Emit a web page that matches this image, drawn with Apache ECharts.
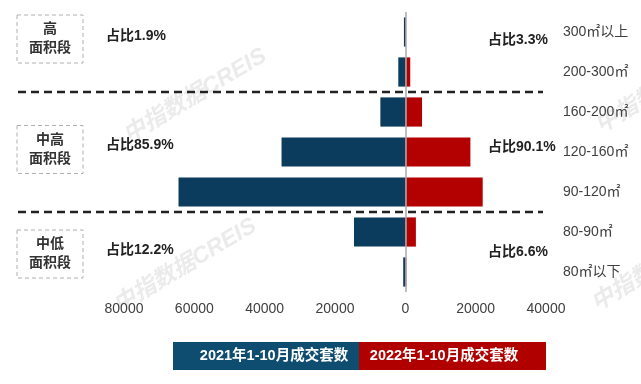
<!DOCTYPE html>
<html><head><meta charset="utf-8">
<script src="https://cdn.jsdelivr.net/npm/echarts@6/dist/echarts.min.js"></script>
<style>html,body{margin:0;padding:0;background:#fff}#c{width:641px;height:384px}</style>
</head><body><div id="c"></div>
<script>
// ---- data ----
const categories = ['300㎡以上','200-300㎡','160-200㎡','120-160㎡','90-120㎡','80-90㎡','80㎡以下'];
const sales2021 = [400, 2000, 7100, 35200, 64500, 14600, 600];
const sales2022 = [200, 1400, 4750, 18500, 22000, 3000, 300];
const seriesNames = ['2021年1-10月成交套数','2022年1-10月成交套数'];
const groupNames = ['高\n面积段','中高\n面积段','中低\n面积段'];
const share2021 = ['占比1.9%','占比85.9%','占比12.2%'];
const share2022 = ['占比3.3%','占比90.1%','占比6.6%'];
const groupBreakAfter = [1, 4];
const watermarkText = '中指数据CREIS';

// ---- styles ----
const FONT = "'Liberation Sans','Noto Sans CJK SC',sans-serif";
const BLUE = '#0b3c5d', RED = '#b30000';
const LEG_BLUE = '#0e4d6f', LEG_RED = '#b00000';

const chart = echarts.init(document.getElementById('c'), null, {renderer: 'canvas'});

const option = {
  animation: false,
  backgroundColor: '#fff',
  grid: {left: 124, right: 95, top: 12, bottom: 92, containLabel: false},
  xAxis: {
    type: 'value', min: -80000, max: 40000, interval: 20000,
    axisLine: {show: false}, axisTick: {show: false}, splitLine: {show: false},
    axisLabel: {
      formatter: v => String(Math.abs(v)), color: '#404040', fontSize: 14,
      fontFamily: FONT, margin: 10
    }
  },
  yAxis: {
    type: 'category', data: categories, inverse: true, position: 'right',
    axisLine: {show: false, onZero: false}, axisTick: {show: false},
    axisLabel: {color: '#404040', fontSize: 14, fontFamily: FONT, margin: 17, align: 'left'}
  },
  series: [
    {
      name: seriesNames[0], type: 'bar', data: sales2021.map(v => -v),
      barCategoryGap: '27%', barGap: '-100%', itemStyle: {color: BLUE},
      markLine: {
        silent: true, symbol: 'none', label: {show: false},
        lineStyle: {color: '#aaaaaa', width: 1.5, type: 'solid'},
        data: [{xAxis: 0}], z: 10
      }
    },
    {
      name: seriesNames[1], type: 'bar', data: sales2022,
      barCategoryGap: '27%', barGap: '-100%', itemStyle: {color: RED}
    }
  ]
};
chart.setOption(option);

// ---- annotations ----
function catY(i) { return chart.convertToPixel({yAxisIndex: 0}, categories[i]); }
const graphics = [];

// watermarks
const wm = [[195, 96], [185, 266], [667, 86], [663, 264]];
wm.forEach(p => graphics.push({
  type: 'text', x: p[0], y: p[1], rotation: 0.54, z: 0, silent: true,
  style: {text: watermarkText, fill: '#ebebeb', font: "italic bold 23px 'Liberation Sans','Noto Sans CJK SC',sans-serif",
          textAlign: 'center', textVerticalAlign: 'middle'}
}));

// dashed separators
groupBreakAfter.forEach(i => {
  const y = (catY(i) + catY(i + 1)) / 2;
  graphics.push({
    type: 'line', z: 20, silent: true,
    shape: {x1: 18, y1: y, x2: 543, y2: y},
    style: {stroke: '#222', lineWidth: 2.5, lineDash: [8, 5]}
  });
});

// group boxes and share texts
const boxY = [39, 149.5, 254];
const leftY = [36, 145, 250];
const rightY = [40, 147, 252];
groupNames.forEach((g, k) => {
  graphics.push({
    type: 'rect', z: 20, silent: true,
    shape: {x: 17, y: boxY[k] - 24, width: 66, height: 48},
    style: {fill: 'none', stroke: '#b0b0b0', lineWidth: 1, lineDash: [4, 3]}
  });
  graphics.push({
    type: 'text', z: 21, silent: true, x: 50, y: boxY[k],
    style: {text: g, fill: '#333', font: "bold 14px 'Liberation Sans','Noto Sans CJK SC',sans-serif",
            textAlign: 'center', textVerticalAlign: 'middle', lineHeight: 19}
  });
  graphics.push({
    type: 'text', z: 21, silent: true, x: 106, y: leftY[k],
    style: {text: share2021[k], fill: '#222', font: "bold 14px 'Liberation Sans','Noto Sans CJK SC',sans-serif",
            textAlign: 'left', textVerticalAlign: 'middle'}
  });
  graphics.push({
    type: 'text', z: 21, silent: true, x: 488, y: rightY[k],
    style: {text: share2022[k], fill: '#222', font: "bold 14px 'Liberation Sans','Noto Sans CJK SC',sans-serif",
            textAlign: 'left', textVerticalAlign: 'middle'}
  });
});

// legend boxes
const legColors = [LEG_BLUE, LEG_RED];
const legX = [173, 359], legW = [186, 187], legTextX = [274, 444];
seriesNames.forEach((n, k) => {
  graphics.push({
    type: 'rect', z: 20, silent: true,
    shape: {x: legX[k], y: 342, width: legW[k], height: 28},
    style: {fill: legColors[k]}
  });
  graphics.push({
    type: 'text', z: 21, silent: true, x: legTextX[k], y: 356,
    style: {text: n, fill: '#fff', font: "bold 14.5px 'Liberation Sans','Noto Sans CJK SC',sans-serif",
            textAlign: 'center', textVerticalAlign: 'middle'}
  });
});

chart.setOption({graphic: graphics});
</script>
</body></html>
